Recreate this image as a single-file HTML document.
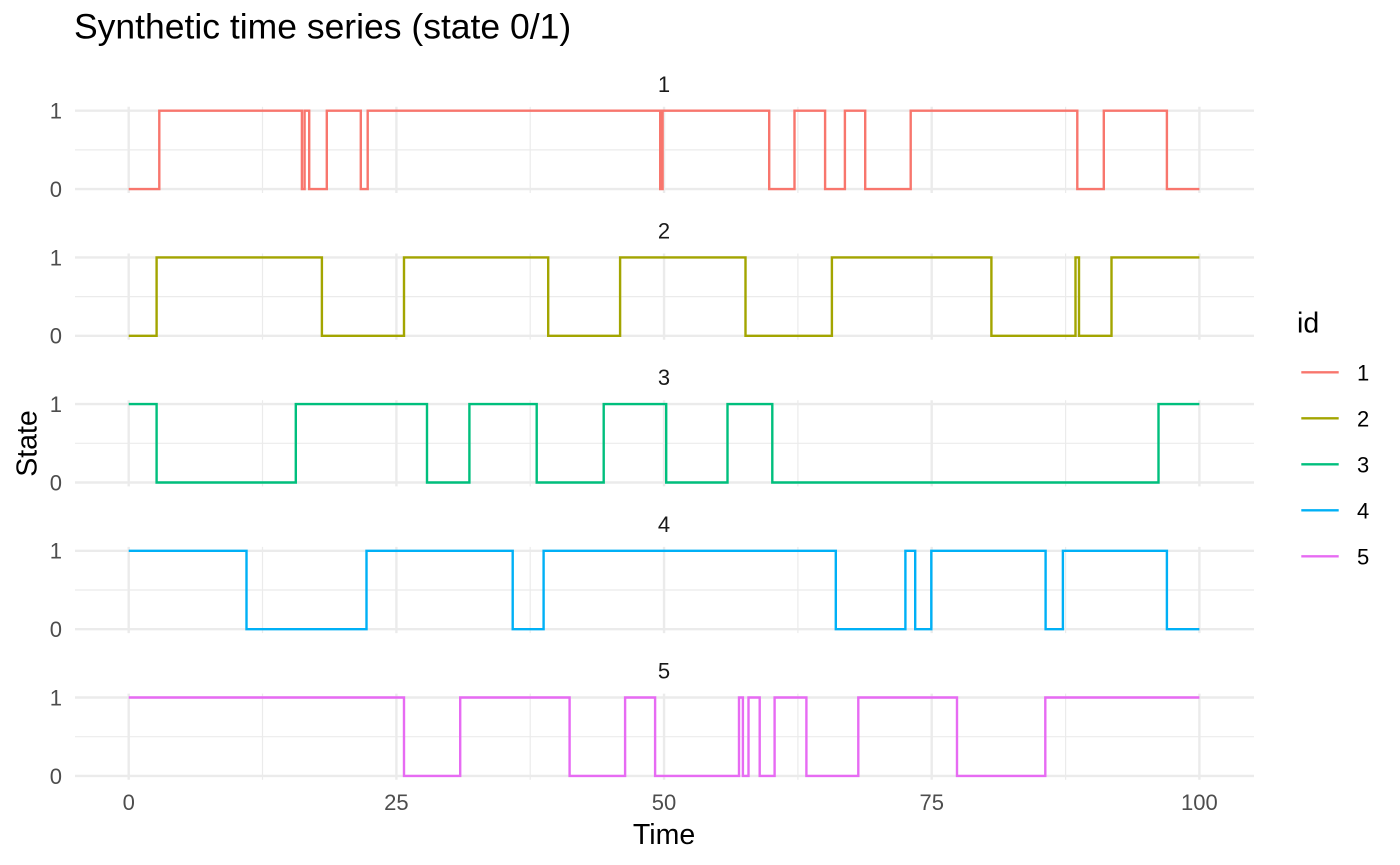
<!DOCTYPE html>
<html>
<head>
<meta charset="utf-8">
<style>
html,body{margin:0;padding:0;background:#fff;}
svg{display:block;}
text{font-family:"Liberation Sans",Arial,sans-serif;}
</style>
</head>
<body>
<svg width="1400" height="865" viewBox="0 0 1400 865" xmlns="http://www.w3.org/2000/svg">
<rect width="1400" height="865" fill="#fff"/>

<!-- Title -->
<text x="74" y="38.5" font-size="35.5" fill="#000">Synthetic time series (state 0/1)</text>

<!-- Grid for each panel -->
<g id="grids">
  <g stroke="#EBEBEB" fill="none">
    <g stroke-width="1.2">
      <line x1="75" x2="1254" y1="149.9" y2="149.9"/>
      <line x1="262.5" x2="262.5" y1="106.8" y2="193.0"/>
      <line x1="530.2" x2="530.2" y1="106.8" y2="193.0"/>
      <line x1="797.9" x2="797.9" y1="106.8" y2="193.0"/>
      <line x1="1065.6" x2="1065.6" y1="106.8" y2="193.0"/>
    </g>
    <g stroke-width="2.4">
      <line x1="75" x2="1254" y1="110.7" y2="110.7"/>
      <line x1="75" x2="1254" y1="189.1" y2="189.1"/>
      <line x1="128.7" x2="128.7" y1="106.8" y2="193.0"/>
      <line x1="396.4" x2="396.4" y1="106.8" y2="193.0"/>
      <line x1="664.05" x2="664.05" y1="106.8" y2="193.0"/>
      <line x1="931.7" x2="931.7" y1="106.8" y2="193.0"/>
      <line x1="1199.4" x2="1199.4" y1="106.8" y2="193.0"/>
    </g>
  </g>
  <g stroke="#EBEBEB" fill="none" transform="translate(0,146.7)">
    <g stroke-width="1.2">
      <line x1="75" x2="1254" y1="149.9" y2="149.9"/>
      <line x1="262.5" x2="262.5" y1="106.8" y2="193.0"/>
      <line x1="530.2" x2="530.2" y1="106.8" y2="193.0"/>
      <line x1="797.9" x2="797.9" y1="106.8" y2="193.0"/>
      <line x1="1065.6" x2="1065.6" y1="106.8" y2="193.0"/>
    </g>
    <g stroke-width="2.4">
      <line x1="75" x2="1254" y1="110.7" y2="110.7"/>
      <line x1="75" x2="1254" y1="189.1" y2="189.1"/>
      <line x1="128.7" x2="128.7" y1="106.8" y2="193.0"/>
      <line x1="396.4" x2="396.4" y1="106.8" y2="193.0"/>
      <line x1="664.05" x2="664.05" y1="106.8" y2="193.0"/>
      <line x1="931.7" x2="931.7" y1="106.8" y2="193.0"/>
      <line x1="1199.4" x2="1199.4" y1="106.8" y2="193.0"/>
    </g>
  </g>
  <g stroke="#EBEBEB" fill="none" transform="translate(0,293.4)">
    <g stroke-width="1.2">
      <line x1="75" x2="1254" y1="149.9" y2="149.9"/>
      <line x1="262.5" x2="262.5" y1="106.8" y2="193.0"/>
      <line x1="530.2" x2="530.2" y1="106.8" y2="193.0"/>
      <line x1="797.9" x2="797.9" y1="106.8" y2="193.0"/>
      <line x1="1065.6" x2="1065.6" y1="106.8" y2="193.0"/>
    </g>
    <g stroke-width="2.4">
      <line x1="75" x2="1254" y1="110.7" y2="110.7"/>
      <line x1="75" x2="1254" y1="189.1" y2="189.1"/>
      <line x1="128.7" x2="128.7" y1="106.8" y2="193.0"/>
      <line x1="396.4" x2="396.4" y1="106.8" y2="193.0"/>
      <line x1="664.05" x2="664.05" y1="106.8" y2="193.0"/>
      <line x1="931.7" x2="931.7" y1="106.8" y2="193.0"/>
      <line x1="1199.4" x2="1199.4" y1="106.8" y2="193.0"/>
    </g>
  </g>
  <g stroke="#EBEBEB" fill="none" transform="translate(0,440.1)">
    <g stroke-width="1.2">
      <line x1="75" x2="1254" y1="149.9" y2="149.9"/>
      <line x1="262.5" x2="262.5" y1="106.8" y2="193.0"/>
      <line x1="530.2" x2="530.2" y1="106.8" y2="193.0"/>
      <line x1="797.9" x2="797.9" y1="106.8" y2="193.0"/>
      <line x1="1065.6" x2="1065.6" y1="106.8" y2="193.0"/>
    </g>
    <g stroke-width="2.4">
      <line x1="75" x2="1254" y1="110.7" y2="110.7"/>
      <line x1="75" x2="1254" y1="189.1" y2="189.1"/>
      <line x1="128.7" x2="128.7" y1="106.8" y2="193.0"/>
      <line x1="396.4" x2="396.4" y1="106.8" y2="193.0"/>
      <line x1="664.05" x2="664.05" y1="106.8" y2="193.0"/>
      <line x1="931.7" x2="931.7" y1="106.8" y2="193.0"/>
      <line x1="1199.4" x2="1199.4" y1="106.8" y2="193.0"/>
    </g>
  </g>
  <g stroke="#EBEBEB" fill="none" transform="translate(0,586.8)">
    <g stroke-width="1.2">
      <line x1="75" x2="1254" y1="149.9" y2="149.9"/>
      <line x1="262.5" x2="262.5" y1="106.8" y2="193.0"/>
      <line x1="530.2" x2="530.2" y1="106.8" y2="193.0"/>
      <line x1="797.9" x2="797.9" y1="106.8" y2="193.0"/>
      <line x1="1065.6" x2="1065.6" y1="106.8" y2="193.0"/>
    </g>
    <g stroke-width="2.4">
      <line x1="75" x2="1254" y1="110.7" y2="110.7"/>
      <line x1="75" x2="1254" y1="189.1" y2="189.1"/>
      <line x1="128.7" x2="128.7" y1="106.8" y2="193.0"/>
      <line x1="396.4" x2="396.4" y1="106.8" y2="193.0"/>
      <line x1="664.05" x2="664.05" y1="106.8" y2="193.0"/>
      <line x1="931.7" x2="931.7" y1="106.8" y2="193.0"/>
      <line x1="1199.4" x2="1199.4" y1="106.8" y2="193.0"/>
    </g>
  </g>
</g>

<!-- Strip labels -->
<g font-size="22" fill="#1A1A1A" text-anchor="middle">
  <text x="664.05" y="91.8">1</text>
  <text x="664.05" y="238.5">2</text>
  <text x="664.05" y="385.2">3</text>
  <text x="664.05" y="531.9">4</text>
  <text x="664.05" y="678.6">5</text>
</g>

<!-- Y tick labels -->
<g font-size="22" fill="#4D4D4D" text-anchor="end">
  <text x="62" y="118.6">1</text>
  <text x="62" y="197.0">0</text>
  <text x="62" y="265.3">1</text>
  <text x="62" y="343.7">0</text>
  <text x="62" y="412.0">1</text>
  <text x="62" y="490.4">0</text>
  <text x="62" y="558.7">1</text>
  <text x="62" y="637.1">0</text>
  <text x="62" y="705.4">1</text>
  <text x="62" y="783.8">0</text>
</g>

<!-- X tick labels -->
<g font-size="22" fill="#4D4D4D" text-anchor="middle">
  <text x="128.7" y="810">0</text>
  <text x="396.4" y="810">25</text>
  <text x="664.05" y="810">50</text>
  <text x="931.7" y="810">75</text>
  <text x="1199.4" y="810">100</text>
</g>

<!-- Axis titles -->
<text x="664.05" y="844" font-size="28.5" fill="#000" text-anchor="middle">Time</text>
<text transform="translate(36.5,443.5) rotate(-90)" font-size="28.5" fill="#000" text-anchor="middle">State</text>

<!-- Series -->
<g fill="none" stroke-width="2.4" stroke-linejoin="miter" stroke-linecap="butt">
  <path stroke="#F8766D" d="M128.7,189.1 H159.3 V110.7 H301.9 V189.1 H304.6 V110.7 H309.2 V189.1 H326.8 V110.7 H360.8 V189.1 H367.7 V110.7 H660.2 V189.1 H662.6 V110.7 H769.2 V189.1 H794.5 V110.7 H825.1 V189.1 H844.9 V110.7 H865.2 V189.1 H910.7 V110.7 H1077.3 V189.1 H1103.8 V110.7 H1166.9 V189.1 H1199.4"/>
  <path stroke="#A3A500" d="M128.7,335.8 H156.6 V257.4 H321.9 V335.8 H404.0 V257.4 H548.2 V335.8 H620.1 V257.4 H745.5 V335.8 H831.9 V257.4 H991.4 V335.8 H1075.5 V257.4 H1079.0 V335.8 H1111.5 V257.4 H1199.4"/>
  <path stroke="#00BF7D" d="M128.7,404.1 H156.6 V482.5 H295.8 V404.1 H427.0 V482.5 H469.4 V404.1 H536.7 V482.5 H603.7 V404.1 H666.2 V482.5 H727.5 V404.1 H772.3 V482.5 H1158.5 V404.1 H1199.4"/>
  <path stroke="#00B0F6" d="M128.7,550.8 H246.5 V629.2 H366.5 V550.8 H512.7 V629.2 H543.6 V550.8 H835.8 V629.2 H905.4 V550.8 H915.2 V629.2 H931.3 V550.8 H1045.6 V629.2 H1062.9 V550.8 H1166.9 V629.2 H1199.4"/>
  <path stroke="#E76BF3" d="M128.7,697.5 H404.0 V775.9 H460.2 V697.5 H569.6 V775.9 H625.1 V697.5 H655.1 V775.9 H739.0 V697.5 H742.9 V775.9 H748.5 V697.5 H759.7 V775.9 H774.6 V697.5 H806.4 V775.9 H858.3 V697.5 H957.0 V775.9 H1045.3 V697.5 H1199.4"/>
</g>

<!-- Legend -->
<text x="1297" y="332.3" font-size="28.5" fill="#000">id</text>
<g stroke-width="2.4">
  <line x1="1301.3" x2="1338.7" y1="372.3" y2="372.3" stroke="#F8766D"/>
  <line x1="1301.3" x2="1338.7" y1="418.3" y2="418.3" stroke="#A3A500"/>
  <line x1="1301.3" x2="1338.7" y1="464.3" y2="464.3" stroke="#00BF7D"/>
  <line x1="1301.3" x2="1338.7" y1="510.3" y2="510.3" stroke="#00B0F6"/>
  <line x1="1301.3" x2="1338.7" y1="556.3" y2="556.3" stroke="#E76BF3"/>
</g>
<g font-size="22" fill="#000">
  <text x="1357" y="380.3">1</text>
  <text x="1357" y="426.3">2</text>
  <text x="1357" y="472.3">3</text>
  <text x="1357" y="518.3">4</text>
  <text x="1357" y="564.3">5</text>
</g>
</svg>
</body>
</html>
